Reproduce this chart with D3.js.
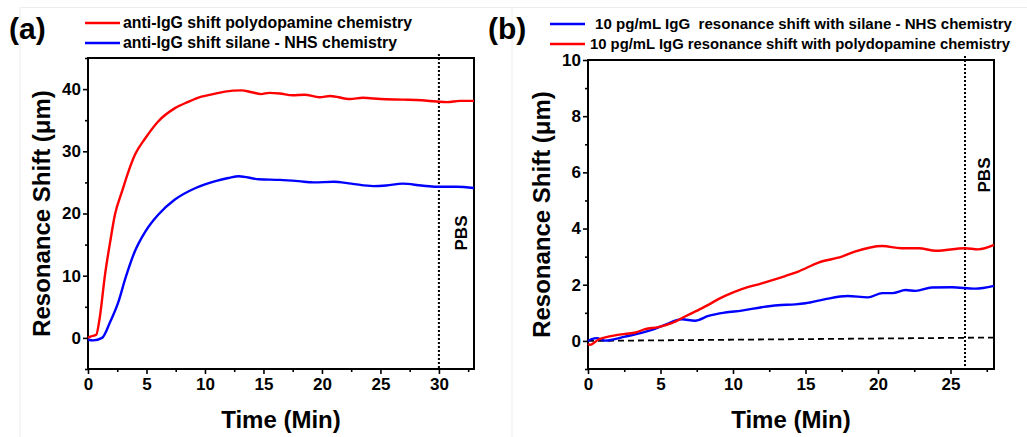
<!DOCTYPE html>
<html>
<head>
<meta charset="utf-8">
<script src="https://cdn.jsdelivr.net/npm/d3@7"></script>
<style>
  body { margin: 0; background: #fff; }
  text { font-family: Arial, "Liberation Sans", sans-serif; font-weight: bold; fill: #000; }
</style>
</head>
<body>
<div id="graf"></div>
<script>
//// DATOS
// panel (a): anti-IgG
polyA_t = [0, 0.2, 0.7, 1.0, 1.45, 1.9, 2.3, 2.9, 3.45, 4.0, 4.9, 6.0, 7.4, 8.5, 9.7, 10.5, 11.7, 13.1, 14.0, 14.8, 15.5, 16.4, 17.5, 18.5, 19.8, 20.7, 22.4, 23.5, 25.0, 26.9, 28.5, 29.8, 30.7, 31.8, 33]
polyA_v = [0, 0.2, 0.5, 3.2, 10.1, 15.5, 19.8, 23.5, 26.7, 29.4, 32.1, 34.8, 36.9, 37.9, 38.8, 39.1, 39.6, 39.8, 39.5, 39.2, 39.4, 39.3, 39.0, 39.1, 38.7, 38.9, 38.4, 38.6, 38.4, 38.3, 38.2, 38.0, 37.9, 38.1, 38.1]
silA_t = [0, 0.45, 1.2, 1.9, 2.6, 3.2, 4.0, 4.9, 6.0, 7.4, 9.2, 10.9, 12.0, 12.9, 14.6, 16.4, 18.0, 19.3, 21.0, 22.5, 24.4, 25.5, 26.9, 28.5, 29.8, 31.5, 33]
silA_v = [-0.3, -0.4, 0, 2.6, 5.8, 9.6, 13.9, 17.1, 19.8, 22.2, 24.1, 25.2, 25.7, 26.0, 25.5, 25.4, 25.2, 25.0, 25.1, 24.8, 24.4, 24.5, 24.8, 24.5, 24.3, 24.3, 24.1]

// panel (b): 10 pg/mL IgG
silB_t = [0, 0.26, 0.6, 1.17, 2.55, 4.4, 5.3, 6.46, 7.38, 8.3, 9.45, 10.6, 11.98, 13.1, 14.3, 15.0, 16.3, 17.9, 19.3, 20.3, 21.0, 21.9, 22.6, 23.7, 25.1, 26.7, 28.0]
silB_v = [0, 0.06, 0.1, 0.01, 0.15, 0.39, 0.57, 0.77, 0.72, 0.89, 1.01, 1.08, 1.2, 1.27, 1.3, 1.34, 1.48, 1.6, 1.55, 1.7, 1.7, 1.81, 1.78, 1.9, 1.91, 1.86, 1.96]
polyB_t = [0, 0.14, 0.7, 1.4, 2.55, 3.3, 3.93, 4.85, 5.77, 6.69, 7.84, 9.45, 10.6, 11.98, 13.6, 14.5, 15.9, 17.5, 18.4, 20.3, 21.6, 22.8, 24.0, 26.0, 26.9, 28.0]
polyB_v = [-0.1, -0.14, 0.04, 0.15, 0.25, 0.3, 0.42, 0.49, 0.63, 0.87, 1.16, 1.6, 1.84, 2.05, 2.31, 2.47, 2.79, 3.0, 3.18, 3.38, 3.3, 3.3, 3.21, 3.3, 3.26, 3.42]
baseB_t = [0, 28]
baseB_v = [0, 0.12]

// ejes
xTicksA = [0, 5, 10, 15, 20, 25, 30]
xMinorA = [2.5, 7.5, 12.5, 17.5, 22.5, 27.5, 32.5]
yTicksA = [0, 10, 20, 30, 40]
yMinorA = [-5, 5, 15, 25, 35, 45]
xTicksB = [0, 5, 10, 15, 20, 25]
xMinorB = [2.5, 7.5, 12.5, 17.5, 22.5, 27.5]
yTicksB = [0, 2, 4, 6, 8, 10]
yMinorB = [-1, 1, 3, 5, 7, 9]

legendA = ['anti-IgG shift polydopamine chemistry', 'anti-IgG shift silane - NHS chemistry']
legendB = ['10 pg/mL IgG  resonance shift with silane - NHS chemistry', '10 pg/mL IgG resonance shift with polydopamine chemistry']

//// SVG
svg = d3.select('#graf').append('svg')
        .attr('width', 1027)
        .attr('height', 437)

// bordes tenues de las imágenes originales
svg.append('path')
   .attr('d', 'M20,437V7.5H1027M512,437V8')
   .attr('fill', 'none')
   .attr('stroke', '#ececec')
   .attr('stroke-width', 1)

line = d3.line().x(d => d[0]).y(d => d[1]).curve(d3.curveMonotoneX)

function panel(cfg) {
  x = d3.scaleLinear().domain(cfg.xDom).range([cfg.left, cfg.right])
  y = d3.scaleLinear().domain(cfg.yDom).range([cfg.bottom, cfg.top])

  g = svg.append('g')

  // ejes con ticks mayores y menores
  xAxis = g.append('g').attr('transform', `translate(0,${cfg.bottom})`)
           .call(d3.axisBottom(x).tickValues(cfg.xTicks).tickSize(5).tickPadding(4).tickFormat(d3.format('d')))
  g.append('g').attr('transform', `translate(0,${cfg.bottom})`)
           .call(d3.axisBottom(x).tickValues(cfg.xMinor).tickSize(3).tickFormat(''))
  yAxis = g.append('g').attr('transform', `translate(${cfg.left},0)`)
           .call(d3.axisLeft(y).tickValues(cfg.yTicks).tickSize(5).tickPadding(2).tickFormat(d3.format('d')))
  g.append('g').attr('transform', `translate(${cfg.left},0)`)
           .call(d3.axisLeft(y).tickValues(cfg.yMinor).tickSize(3).tickFormat(''))
  g.selectAll('.domain').remove()
  g.selectAll('.tick line').attr('stroke', '#000').attr('stroke-width', 1.6)
  g.selectAll('.tick text').attr('font-size', 17).attr('font-family', 'Arial, "Liberation Sans", sans-serif').attr('font-weight', 'bold')

  // marco
  g.append('rect')
   .attr('x', cfg.left).attr('y', cfg.top)
   .attr('width', cfg.right - cfg.left).attr('height', cfg.bottom - cfg.top)
   .attr('fill', 'none').attr('stroke', '#000').attr('stroke-width', 2)

  // línea PBS
  g.append('line')
   .attr('x1', x(cfg.pbs)).attr('x2', x(cfg.pbs))
   .attr('y1', cfg.top - 4).attr('y2', cfg.bottom)
   .attr('stroke', '#000').attr('stroke-width', 2).attr('stroke-dasharray', '2,2')
  g.append('text')
   .attr('transform', `translate(${cfg.pbsX},${cfg.pbsY}) rotate(-90)`)
   .attr('text-anchor', 'middle')
   .attr('font-size', 17)
   .text('PBS')

  // series
  cfg.series.forEach(s => {
    g.append('path')
     .attr('d', line(s.t.map((t, i) => [x(t), y(s.v[i])])))
     .attr('fill', 'none')
     .attr('stroke', s.color)
     .attr('stroke-width', s.width || 2.4)
     .attr('stroke-dasharray', s.dash || null)
     .attr('stroke-linejoin', 'round')
  })

  // títulos de ejes
  g.append('text')
   .attr('x', (cfg.left + cfg.right) / 2).attr('y', 428)
   .attr('text-anchor', 'middle').attr('font-size', 24)
   .text('Time (Min)')
  g.append('text')
   .attr('transform', `translate(${cfg.yTitleX},${(cfg.top + cfg.bottom) / 2}) rotate(-90)`)
   .attr('text-anchor', 'middle').attr('font-size', 24)
   .text('Resonance Shift (μm)')

  // etiqueta del panel
  g.append('text')
   .attr('x', cfg.labelX).attr('y', 39)
   .attr('font-size', 30)
   .text(cfg.label)

  // leyenda
  cfg.legend.forEach((l, i) => {
    ly = cfg.legY + i * 20
    g.append('line')
     .attr('x1', cfg.legX).attr('x2', cfg.legX + 35)
     .attr('y1', ly).attr('y2', ly)
     .attr('stroke', l.color).attr('stroke-width', 2.6)
    g.append('text')
     .attr('x', cfg.legX + l.dx).attr('y', ly + 5)
     .attr('font-size', cfg.legFont)
     .attr('textLength', l.len)
     .attr('lengthAdjust', 'spacingAndGlyphs')
     .style('white-space', 'pre')
     .text(l.text)
  })
}

panel({
  xDom: [0, 33], yDom: [-5, 45],
  left: 88, right: 474, top: 58, bottom: 369,
  xTicks: xTicksA, xMinor: xMinorA, yTicks: yTicksA, yMinor: yMinorA,
  pbs: 30, pbsX: 467, pbsY: 233,
  yTitleX: 50, label: '(a)', labelX: 9,
  legX: 85, legY: 23, legFont: 16.5,
  legend: [
    { text: legendA[0], color: '#ff0000', dx: 38, len: 289 },
    { text: legendA[1], color: '#0000ff', dx: 38, len: 274 }
  ],
  series: [
    { t: polyA_t, v: polyA_v, color: '#ff0000' },
    { t: silA_t, v: silA_v, color: '#0000ff' }
  ]
})

panel({
  xDom: [0, 28], yDom: [-1, 10],
  left: 588, right: 994, top: 60, bottom: 369,
  xTicks: xTicksB, xMinor: xMinorB, yTicks: yTicksB, yMinor: yMinorB,
  pbs: 26, pbsX: 990, pbsY: 175,
  yTitleX: 550, label: '(b)', labelX: 488,
  legX: 550, legY: 24, legFont: 15,
  legend: [
    { text: legendB[0], color: '#0000ff', dx: 45, len: 417 },
    { text: legendB[1], color: '#ff0000', dx: 40, len: 420 }
  ],
  series: [
    { t: baseB_t, v: baseB_v, color: '#000', width: 1.8, dash: '6,4' },
    { t: silB_t, v: silB_v, color: '#0000ff' },
    { t: polyB_t, v: polyB_v, color: '#ff0000' }
  ]
})
</script>
</body>
</html>
